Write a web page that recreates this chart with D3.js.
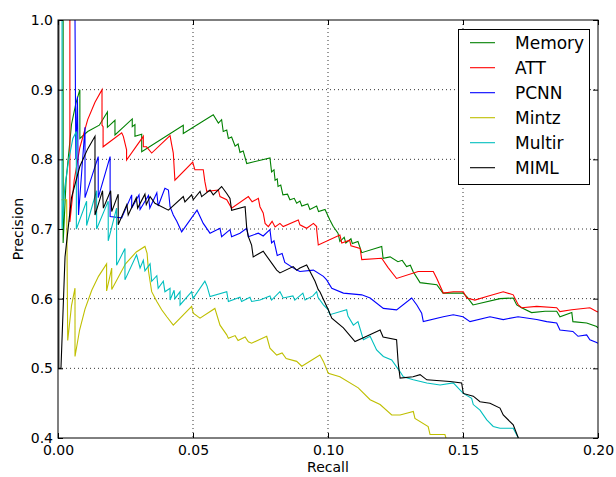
<!DOCTYPE html>
<html>
<head>
<meta charset="utf-8">
<script src="https://cdn.jsdelivr.net/npm/d3@7"></script>
<style>
  body { margin: 0; background: #fff; }
  svg { font-family: "DejaVu Sans", sans-serif; }
</style>
</head>
<body>
<div id="container"></div>
<script>
// recall / precision pairs
var memory = [[0.0019,1.0],[0.0019,0.68],[0.0030,0.77],[0.0050,0.85],[0.0066,0.88],[0.0081,0.90],[0.0081,0.83],[0.0110,0.84],[0.0153,0.849],[0.0183,0.868],[0.0183,0.846],[0.0211,0.856],[0.0211,0.835],[0.0275,0.858],[0.0275,0.847],[0.0285,0.850],[0.0285,0.833],[0.0310,0.836],[0.0310,0.811],[0.0464,0.849],[0.0464,0.837],[0.0575,0.864],[0.0594,0.852],[0.0606,0.857],[0.0612,0.840],[0.0625,0.842],[0.0631,0.830],[0.0643,0.832],[0.0656,0.819],[0.0667,0.822],[0.0674,0.810],[0.0686,0.812],[0.0699,0.794],[0.0785,0.802],[0.0791,0.782],[0.0800,0.785],[0.0804,0.770],[0.0812,0.772],[0.0815,0.761],[0.0825,0.763],[0.0833,0.749],[0.0850,0.750],[0.0859,0.742],[0.0875,0.744],[0.0884,0.737],[0.0896,0.740],[0.0903,0.733],[0.0925,0.736],[0.0933,0.728],[0.0958,0.733],[0.0965,0.725],[0.0989,0.728],[0.0995,0.723],[0.1007,0.713],[0.1019,0.704],[0.1037,0.694],[0.1044,0.682],[0.1060,0.688],[0.1066,0.680],[0.1085,0.686],[0.1090,0.679],[0.1111,0.682],[0.1125,0.666],[0.1199,0.675],[0.1204,0.658],[0.1230,0.660],[0.1259,0.653],[0.1275,0.655],[0.1291,0.646],[0.1305,0.648],[0.1315,0.639],[0.1341,0.623],[0.1403,0.620],[0.1426,0.608],[0.1477,0.608],[0.1500,0.608],[0.1514,0.603],[0.1537,0.591],[0.1637,0.600],[0.1686,0.601],[0.1699,0.591],[0.1717,0.587],[0.1754,0.580],[0.1804,0.582],[0.1847,0.582],[0.1859,0.574],[0.1903,0.580],[0.1907,0.567],[0.1958,0.565],[0.1995,0.560],[0.2000,0.558]];

var att = [[0.0044,1.0],[0.0044,0.71],[0.0060,0.77],[0.0081,0.817],[0.0110,0.857],[0.0137,0.882],[0.0163,0.900],[0.0163,0.849],[0.0167,0.847],[0.0167,0.818],[0.0236,0.838],[0.0242,0.833],[0.0254,0.8135],[0.0254,0.799],[0.0316,0.833],[0.0316,0.818],[0.0328,0.818],[0.0347,0.809],[0.0415,0.834],[0.0421,0.821],[0.0427,0.809],[0.0433,0.770],[0.0499,0.796],[0.0507,0.785],[0.0538,0.785],[0.0544,0.768],[0.0551,0.754],[0.0594,0.756],[0.0600,0.7465],[0.0625,0.742],[0.0643,0.730],[0.0705,0.7465],[0.0719,0.739],[0.0742,0.744],[0.0748,0.732],[0.0760,0.723],[0.0767,0.708],[0.0779,0.7035],[0.0793,0.711],[0.0804,0.703],[0.0822,0.708],[0.0834,0.7035],[0.0890,0.713],[0.0896,0.706],[0.0921,0.701],[0.0946,0.708],[0.0958,0.7035],[0.0958,0.699],[0.0964,0.677],[0.1044,0.6915],[0.1051,0.680],[0.1080,0.684],[0.1085,0.676],[0.1119,0.672],[0.1125,0.656],[0.1199,0.658],[0.1222,0.645],[0.1254,0.629],[0.1334,0.639],[0.1390,0.639],[0.1403,0.629],[0.1427,0.608],[0.1464,0.610],[0.1501,0.610],[0.1514,0.601],[0.1544,0.598],[0.1588,0.603],[0.1649,0.610],[0.1686,0.6055],[0.1705,0.591],[0.1717,0.587],[0.1773,0.589],[0.1847,0.587],[0.1859,0.5815],[0.1903,0.584],[0.1970,0.587],[0.1995,0.5815],[0.2000,0.581]];

var pcnn = [[0.0063,1.0],[0.0066,0.80],[0.0072,0.89],[0.0076,0.72],[0.0100,0.846],[0.0100,0.745],[0.0149,0.804],[0.0149,0.745],[0.0193,0.804],[0.0193,0.718],[0.0236,0.716],[0.0273,0.749],[0.0273,0.730],[0.0300,0.749],[0.0304,0.728],[0.0335,0.748],[0.0340,0.730],[0.0366,0.752],[0.0371,0.733],[0.0396,0.7585],[0.0409,0.756],[0.0415,0.732],[0.0427,0.720],[0.0440,0.711],[0.0458,0.696],[0.0515,0.727],[0.0538,0.708],[0.0563,0.694],[0.0600,0.701],[0.0606,0.689],[0.0637,0.699],[0.0643,0.689],[0.0674,0.694],[0.0699,0.701],[0.0705,0.689],[0.0742,0.694],[0.0760,0.690],[0.0785,0.699],[0.0791,0.680],[0.0800,0.683],[0.0812,0.662],[0.0830,0.665],[0.0840,0.652],[0.0884,0.641],[0.0896,0.639],[0.0946,0.641],[0.0983,0.632],[0.0995,0.627],[0.1014,0.615],[0.1057,0.608],[0.1125,0.6055],[0.1156,0.601],[0.1205,0.586],[0.1254,0.584],[0.1310,0.601],[0.1329,0.591],[0.1347,0.579],[0.1353,0.567],[0.1427,0.574],[0.1464,0.577],[0.1500,0.574],[0.1526,0.567],[0.1600,0.574],[0.1649,0.570],[0.1704,0.574],[0.1773,0.570],[0.1810,0.567],[0.1847,0.565],[0.1859,0.555],[0.1907,0.553],[0.1926,0.546],[0.1958,0.548],[0.1970,0.541],[0.1995,0.537],[0.2000,0.536]];

var mintz = [[0.0013,0.742],[0.0032,0.742],[0.0036,0.54],[0.0050,0.59],[0.0063,0.615],[0.0063,0.517],[0.0080,0.555],[0.0100,0.585],[0.0125,0.612],[0.0150,0.632],[0.0180,0.650],[0.0180,0.611],[0.0199,0.644],[0.0199,0.613],[0.0250,0.650],[0.0290,0.667],[0.0322,0.675],[0.0330,0.665],[0.0335,0.640],[0.0341,0.625],[0.0347,0.610],[0.0366,0.596],[0.0384,0.584],[0.0403,0.574],[0.0427,0.562],[0.0495,0.589],[0.0501,0.579],[0.0526,0.572],[0.0581,0.586],[0.0600,0.562],[0.0625,0.548],[0.0631,0.543],[0.0656,0.547],[0.0667,0.540],[0.0693,0.545],[0.0705,0.538],[0.0717,0.536],[0.0773,0.546],[0.0785,0.529],[0.0810,0.519],[0.0830,0.522],[0.0845,0.514],[0.0884,0.510],[0.0903,0.503],[0.0970,0.519],[0.0983,0.510],[0.1001,0.493],[0.1044,0.488],[0.1112,0.472],[0.1156,0.455],[0.1193,0.448],[0.1236,0.433],[0.1267,0.433],[0.1316,0.438],[0.1322,0.428],[0.1371,0.4165],[0.1378,0.405],[0.1433,0.405],[0.1437,0.400]];

var multir = [[0.0015,1.0],[0.0015,0.70],[0.0025,0.76],[0.0040,0.80],[0.0055,0.83],[0.0068,0.84],[0.0068,0.70],[0.0106,0.74],[0.0106,0.705],[0.0143,0.755],[0.0143,0.70],[0.0186,0.74],[0.0186,0.683],[0.0217,0.73],[0.0217,0.648],[0.0248,0.672],[0.0248,0.627],[0.0291,0.663],[0.0304,0.644],[0.0316,0.655],[0.0322,0.640],[0.0341,0.650],[0.0347,0.625],[0.0366,0.633],[0.0371,0.615],[0.0390,0.625],[0.0396,0.610],[0.0415,0.615],[0.0415,0.598],[0.0430,0.612],[0.0433,0.600],[0.0452,0.610],[0.0452,0.591],[0.0495,0.610],[0.0500,0.600],[0.0544,0.625],[0.0552,0.618],[0.0563,0.603],[0.0625,0.610],[0.0631,0.596],[0.0674,0.602],[0.0680,0.596],[0.0711,0.602],[0.0717,0.596],[0.0748,0.598],[0.0785,0.604],[0.0791,0.598],[0.0822,0.610],[0.0834,0.601],[0.0870,0.604],[0.0877,0.598],[0.0907,0.608],[0.0915,0.598],[0.0944,0.604],[0.0958,0.610],[0.0963,0.602],[0.0983,0.591],[0.1001,0.584],[0.1007,0.577],[0.1069,0.584],[0.1074,0.575],[0.1094,0.562],[0.1111,0.567],[0.1131,0.541],[0.1156,0.546],[0.1180,0.5265],[0.1205,0.517],[0.1236,0.512],[0.1267,0.495],[0.1279,0.488],[0.1316,0.4835],[0.1366,0.479],[0.1415,0.476],[0.1464,0.479],[0.1501,0.464],[0.1532,0.457],[0.1538,0.448],[0.1563,0.440],[0.1588,0.426],[0.1612,0.4165],[0.1637,0.414],[0.1686,0.414],[0.1705,0.400]];

var miml = [[0.0003,1.0],[0.0003,0.50],[0.0011,0.50],[0.0026,0.66],[0.0050,0.745],[0.0081,0.79],[0.0110,0.815],[0.0137,0.833],[0.0137,0.72],[0.0165,0.755],[0.0168,0.730],[0.0195,0.755],[0.0199,0.725],[0.0223,0.750],[0.0223,0.706],[0.0255,0.735],[0.0260,0.720],[0.0290,0.745],[0.0295,0.730],[0.0322,0.750],[0.0327,0.735],[0.0341,0.7465],[0.0359,0.737],[0.0409,0.727],[0.0464,0.7465],[0.0470,0.739],[0.0495,0.749],[0.0501,0.742],[0.0526,0.754],[0.0532,0.7465],[0.0563,0.756],[0.0575,0.749],[0.0606,0.761],[0.0625,0.751],[0.0637,0.744],[0.0643,0.727],[0.0693,0.732],[0.0699,0.701],[0.0705,0.689],[0.0717,0.677],[0.0723,0.660],[0.0760,0.668],[0.0810,0.641],[0.0822,0.637],[0.0871,0.646],[0.0884,0.641],[0.0896,0.644],[0.0921,0.6485],[0.0952,0.625],[0.0964,0.613],[0.0970,0.610],[0.1001,0.584],[0.1014,0.572],[0.1057,0.558],[0.1100,0.5385],[0.1143,0.546],[0.1193,0.555],[0.1204,0.545],[0.1254,0.541],[0.1260,0.5075],[0.1267,0.486],[0.1315,0.488],[0.1341,0.491],[0.1366,0.4835],[0.1452,0.481],[0.1495,0.479],[0.1501,0.464],[0.1538,0.460],[0.1563,0.452],[0.1600,0.450],[0.1637,0.443],[0.1649,0.433],[0.1686,0.419],[0.1705,0.400]];

var seriesNames = ["Memory", "ATT", "PCNN", "Mintz", "Multir", "MIML"];
var seriesColors = ["#008000", "#ff0000", "#0000ff", "#bfbf00", "#00bfbf", "#000000"];
var seriesData = [memory, att, pcnn, mintz, multir, miml];
var xTicks = [0, 0.05, 0.10, 0.15, 0.20];
var yTicks = [0.4, 0.5, 0.6, 0.7, 0.8, 0.9, 1.0];

var w = 616, h = 477;
var m = {left: 58, top: 20, right: 18, bottom: 39};
var pw = w - m.left - m.right, ph = h - m.top - m.bottom;

var svg = d3.select("#container").append("svg")
    .attr("width", w).attr("height", h);

var x = d3.scaleLinear().domain([0, 0.2]).range([0, pw]);
var y = d3.scaleLinear().domain([0.4, 1.0]).range([ph, 0]);

var g = svg.append("g").attr("transform", "translate(" + m.left + "," + m.top + ")");

g.append("clipPath").attr("id", "clip")
  .append("rect").attr("width", pw).attr("height", ph);

// dotted grid
g.append("g").selectAll("line").data(xTicks.slice(1, -1)).enter().append("line")
    .attr("x1", d => x(d)).attr("x2", d => x(d)).attr("y1", 0).attr("y2", ph)
    .attr("stroke", "#000").attr("stroke-width", 0.8).attr("stroke-dasharray", "1,3");
g.append("g").selectAll("line").data(yTicks.slice(1, -1)).enter().append("line")
    .attr("y1", d => y(d)).attr("y2", d => y(d)).attr("x1", 0).attr("x2", pw)
    .attr("stroke", "#000").attr("stroke-width", 0.8).attr("stroke-dasharray", "1,3");

var line = d3.line().x(d => x(d[0])).y(d => y(d[1]));

g.append("g").attr("clip-path", "url(#clip)")
  .selectAll("path").data(seriesData).enter().append("path")
    .attr("d", line)
    .attr("fill", "none")
    .attr("stroke", (d, i) => seriesColors[i])
    .attr("stroke-width", 1.1)
    .attr("stroke-linejoin", "miter");

// axes, ticks inside on all four sides
var fx = d3.format(".2f"), fy = d3.format(".1f");
var ax = g.append("g").attr("transform", "translate(0," + ph + ")")
    .call(d3.axisBottom(x).tickValues(xTicks).tickFormat(fx).tickSize(-5).tickPadding(7));
var ay = g.append("g")
    .call(d3.axisLeft(y).tickValues(yTicks).tickFormat(fy).tickSize(-5).tickPadding(5));
var at = g.append("g")
    .call(d3.axisTop(x).tickValues(xTicks).tickFormat("").tickSize(-5));
var ar = g.append("g").attr("transform", "translate(" + pw + ",0)")
    .call(d3.axisRight(y).tickValues(yTicks).tickFormat("").tickSize(-5));

[ax, ay, at, ar].forEach(function(a) {
  a.select(".domain").remove();
  a.selectAll("text").attr("font-size", 14).attr("fill", "#000")
    .attr("font-family", "DejaVu Sans");
  a.selectAll("line").attr("stroke", "#000");
});

g.append("rect").attr("width", pw).attr("height", ph)
    .attr("fill", "none").attr("stroke", "#000").attr("stroke-width", 1);

svg.append("text").attr("x", m.left + pw / 2).attr("y", 472)
    .attr("text-anchor", "middle").attr("font-size", 14).text("Recall");
svg.append("text").attr("transform", "translate(23," + (m.top + ph / 2) + ") rotate(-90)")
    .attr("text-anchor", "middle").attr("font-size", 14).text("Precision");

// legend
var lg = svg.append("g").attr("transform", "translate(458.5,29.5)");
lg.append("rect").attr("width", 131).attr("height", 155)
    .attr("fill", "#fff").attr("stroke", "#000").attr("stroke-width", 1);
var rows = lg.selectAll("g.row").data(seriesNames).enter().append("g")
    .attr("class", "row")
    .attr("transform", (d, i) => "translate(0," + (13.2 + i * 25) + ")");
rows.append("line").attr("x1", 11.5).attr("x2", 36.5)
    .attr("stroke", (d, i) => seriesColors[i]).attr("stroke-width", 1.1);
rows.append("text").attr("x", 56.5).attr("y", 6).attr("font-size", 17)
    .text(d => d);
</script>
</body>
</html>
